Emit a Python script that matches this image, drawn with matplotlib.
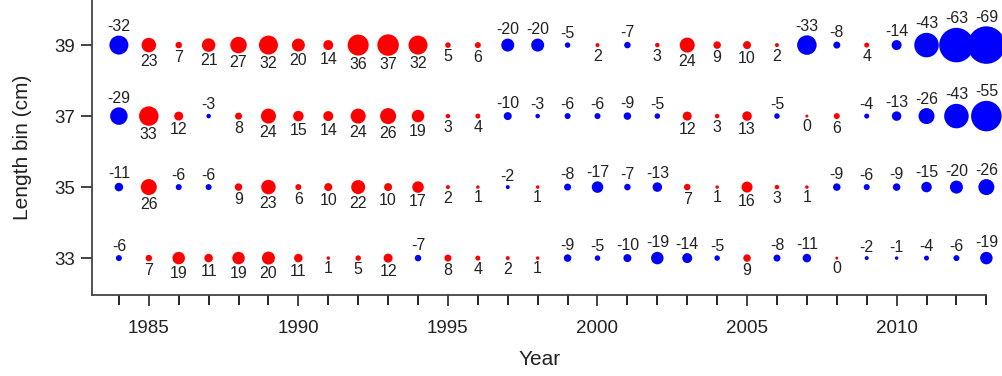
import matplotlib
matplotlib.use("Agg")
import matplotlib.pyplot as plt
import numpy as np

plt.rcParams['font.family'] = ['Liberation Sans', 'DejaVu Sans']

years = np.arange(1984, 2014)
bins = [39, 37, 35, 33]

# anomaly per length bin, one value per year 1984-2013
anom_39 = [-32, 23, 7, 21, 27, 32, 20, 14, 36, 37, 32, 5, 6, -20, -20,
           -5, 2, -7, 3, 24, 9, 10, 2, -33, -8, 4, -14, -43, -63, -69]
anom_37 = [-29, 33, 12, -3, 8, 24, 15, 14, 24, 26, 19, 3, 4, -10, -3,
           -6, -6, -9, -5, 12, 3, 13, -5, 0, 6, -4, -13, -26, -43, -55]
anom_35 = [-11, 26, -6, -6, 9, 23, 6, 10, 22, 10, 17, 2, 1, -2, 1,
           -8, -17, -7, -13, 7, 1, 16, 3, 1, -9, -6, -9, -15, -20, -26]
anom_33 = [-6, 7, 19, 11, 19, 20, 11, 1, 5, 12, -7, 8, 4, 2, 1,
           -9, -5, -10, -19, -14, -5, 9, -8, -11, 0, -2, -1, -4, -6, -19]

rows = [anom_39, anom_37, anom_35, anom_33]

px = 72 / 100  # points per pixel at dpi=100

fig = plt.figure(figsize=(10.03, 3.76), dpi=100)
ax = fig.add_axes([0.0917, 0.2154, 0.8917, 0.7846])

for b, vals in zip(bins, rows):
    vals = np.array(vals)
    diam = 3 + 0.5 * np.abs(vals)          # marker diameter in pixels
    cols = np.where(vals < 0, 'blue', 'red')
    ax.scatter(years, np.full(len(years), b), s=(diam * px) ** 2,
               c=cols, edgecolors='none', clip_on=False, zorder=3)
    for x, v, d in zip(years, vals, diam):
        off = (d / 2 + 9) * px
        dy = off if v < 0 else -off
        ax.annotate(str(v), (x, b), xytext=(0, dy), textcoords='offset points',
                    ha='center', va='center', fontsize=11.5, color='#222222')

ax.set_xlim(1983.1, 2013)
ax.set_ylim(31.96, 40.27)

ax.set_xticks(np.arange(1985, 2011, 5))
ax.set_xticks(years, minor=True)
ax.set_yticks([33, 35, 37, 39])
ax.tick_params(axis='both', which='major', direction='out', length=8,
               width=1.2, labelsize=13.5, colors='#222222')
ax.tick_params(axis='x', which='minor', direction='out', length=7, width=1.2)
ax.tick_params(axis='x', pad=10)
ax.tick_params(axis='y', pad=4)

for side in ['top', 'right']:
    ax.spines[side].set_visible(False)
for side in ['left', 'bottom']:
    ax.spines[side].set_linewidth(1.3)
    ax.spines[side].set_color('#444444')

ax.set_xlabel('Year', fontsize=15, labelpad=9, color='#222222')
ax.set_ylabel('Length bin (cm)', fontsize=15, labelpad=16, color='#222222')

fig.savefig('out.png', dpi=100)
